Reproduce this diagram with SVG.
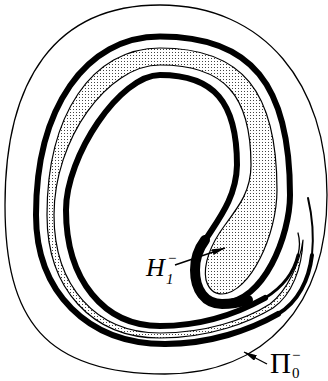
<svg xmlns="http://www.w3.org/2000/svg" width="328" height="381" viewBox="0 0 328 381">
<style>
.thin{fill:none;stroke:#000;stroke-width:1.3}
.band{fill:none;stroke:#000;stroke-linecap:round;stroke-linejoin:round}
.dot{fill:url(#dots);stroke:#000;stroke-width:1.2;stroke-linejoin:round}
.lbl{font-family:"Liberation Serif","Times New Roman",serif;fill:#000}
.arr{fill:none;stroke:#000;stroke-width:1.4}
</style>
<defs>
<pattern id="dots" width="3" height="3" patternUnits="userSpaceOnUse"><rect width="3" height="3" fill="#fff"/><rect x="1" y="1" width="1" height="1" fill="#444"/></pattern>
<marker id="ah" markerUnits="userSpaceOnUse" markerWidth="14" markerHeight="6" refX="13" refY="3" orient="auto"><path d="M0,0 L13,3 L0,6 Z" fill="#000"/></marker>
</defs>
<g id="outer-curve">
<path class="thin" d="M160,5 C265,5 327,85 327,195 C327,305 265,374 165,374 C45,374 5,320 5,205 C5,80 55,5 160,5 Z"/>
</g>
<g id="shaded-strip">
<path class="dot" d="M222,294 C250,293 277,235 277,190 C277,91 242,48 160,48 C92,48 47,115 47,215 C47,289 92,338 160,338 C210,338 250,322 273,308 C292,295 302,268 303,240 C300,262 288,290 270,304 C245,320 205,333 160,333 C96,333 54,286 54,215 C54,140 107,65 160,65 C224,65 251,95 251,165 C251,190 240,205 225,225 C210,245 203,265 206,280 C209,290 215,294 222,294 Z"/>
</g>
<g id="black-strip">
<path class="band" stroke-width="6" d="M165,344 C87.6,344 36,292 36,215 C36,108 85.6,36.5 160,36.5 C251,36.5 290,84 290,195 C290,235 264,303 222,303 C205,303 194,290 194,270 C194,240 236,215 237,165 C237,102 214,75 160,75 C120,75 66,156 66,210 C66,280 104,326 160,326 C205,326 240,312 265,298"/>
<path class="band" stroke-width="10" d="M248,300 C238,303 230,304 222,304 C205,304 195,290 195,270 C195,258 199,248 205,240"/>
<path class="band" stroke-width="3" d="M265,298 C283,287 294,272 298,255"/>
<path class="band" stroke-width="1.3" d="M298,255 C300,247 300,240 298,233"/>
<path class="band" stroke-width="6" d="M165,344 C210,344 250,330 278,314"/>
<path class="band" stroke-width="4" d="M278,314 C298,302 309,280 312,255"/>
<path class="band" stroke-width="2" d="M312,255 C314,235 312,215 308,198"/>
</g>
<g id="label-H">
<text class="lbl" x="146" y="276" font-size="26" font-style="italic">H</text>
<text class="lbl" x="166" y="284" font-size="15" font-style="italic">1</text>
<text class="lbl" x="168" y="263" font-size="15">−</text>
</g>
<g id="label-Pi">
<text class="lbl" x="270" y="373" font-size="29">Π</text>
<text class="lbl" x="292" y="378" font-size="15">0</text>
<text class="lbl" x="292" y="360" font-size="15">−</text>
</g>
<g id="connectors">
<path class="arr" d="M175,265 L225,248" marker-end="url(#ah)"/>
<path class="arr" d="M267,364 L244,352" marker-end="url(#ah)"/>
</g>
</svg>
